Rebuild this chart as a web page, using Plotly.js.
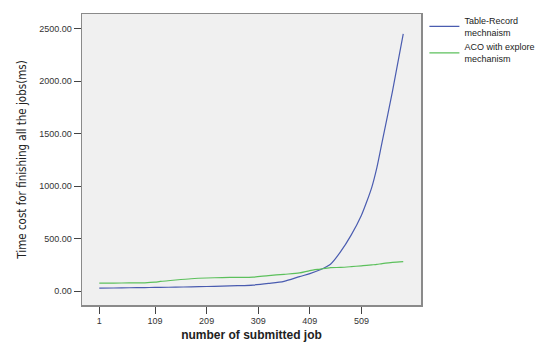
<!DOCTYPE html>
<html><head><meta charset="utf-8">
<script src="https://cdn.plot.ly/plotly-3.0.1.min.js"></script>
<style>html,body{margin:0;padding:0;background:#fff}#chart{width:548px;height:342px}</style>
</head><body><div id="chart"></div>
<script>
var jobs = [1, 29, 59, 89, 109, 119, 149, 179, 209, 239, 269, 299, 329, 359, 389, 409, 429, 449, 469, 489, 509, 519, 529, 539, 549, 569, 590];
var tableRecord = [30, 32, 34, 36, 37, 38, 40, 43, 46, 50, 54, 60, 75, 95, 140, 168, 205, 258, 380, 535, 725, 850, 990, 1180, 1420, 1900, 2450];
var acoExplore = [78, 79, 80, 81, 87, 94, 108, 120, 127, 131, 133, 135, 150, 162, 175, 198, 212, 225, 228, 235, 243, 247, 252, 257, 264, 276, 283];
var tickVals = [1, 109, 209, 309, 409, 509];
var tickText = ["1", "109", "209", "309", "409", "509"];
var seriesNames = ["Table-Record<br>mechnaism", "ACO with explore<br>mechanism"];

var font = "Liberation Sans, Arial, sans-serif";
var data = [
  {x: jobs, y: tableRecord, type: "scatter", mode: "lines", name: seriesNames[0],
   line: {color: "#4a5cb0", width: 1.2, shape: "spline", smoothing: 0.8}},
  {x: jobs, y: acoExplore, type: "scatter", mode: "lines", name: seriesNames[1],
   line: {color: "#5cc05c", width: 1.2, shape: "spline", smoothing: 0.8}}
];
var layout = {
  width: 548, height: 342,
  margin: {l: 82, r: 113, t: 8, b: 37},
  paper_bgcolor: "#ffffff", plot_bgcolor: "#f0f0f0",
  showlegend: true,
  legend: {x: 1.01, xanchor: "left", y: 1.02, yanchor: "top", xref: "paper", yref: "paper",
    font: {family: font, size: 9, color: "#222"}, bgcolor: "rgba(0,0,0,0)",
    tracegroupgap: 0, itemwidth: 30, traceorder: "normal"},
  xaxis: {range: [-32.5, 624.4], tickvals: tickVals, ticktext: tickText,
    showgrid: false, zeroline: false, showline: true, mirror: true, linecolor: "#8a8a8a", linewidth: 1.5,
    ticks: "outside", ticklen: 7, tickcolor: "#444", tickwidth: 1,
    tickfont: {family: font, size: 9, color: "#333"},
    title: {text: "<b>number of submitted job</b>", font: {family: font, size: 12, color: "#222"}, standoff: 8}},
  yaxis: {range: [-130, 2640], tickvals: [0, 500, 1000, 1500, 2000, 2500], tickformat: ".2f",
    showgrid: false, zeroline: false, showline: true, mirror: true, linecolor: "#8a8a8a", linewidth: 1.5,
    ticks: "outside", ticklen: 7, tickcolor: "#444", tickwidth: 1,
    tickfont: {family: font, size: 9, color: "#333"},
    title: {text: "Time cost for finishing all the jobs(ms)", font: {family: "DejaVu Sans Condensed, " + font, size: 11.5, color: "#222"}, standoff: 10}}
};
Plotly.newPlot("chart", data, layout, {displayModeBar: false, staticPlot: true});
</script></body></html>
